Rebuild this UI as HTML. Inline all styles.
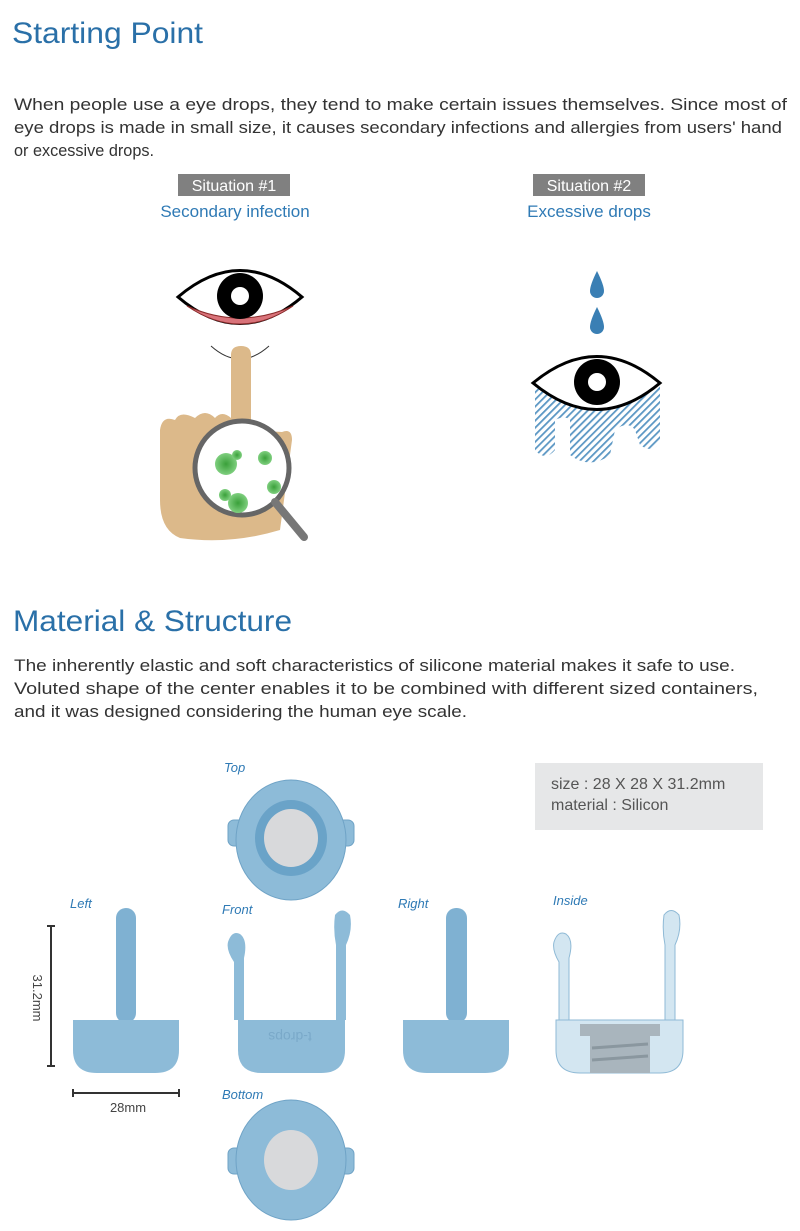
<!DOCTYPE html>
<html><head><meta charset="utf-8"><style>
body{margin:0;background:#fff;width:800px;height:1231px;overflow:hidden}
svg{display:block}
.h{font-family:"Liberation Sans",sans-serif;fill:#2a70a8;font-size:30px}
.p{font-family:"Liberation Sans",sans-serif;fill:#333;font-size:17px}
.lab{font-family:"Liberation Sans",sans-serif;fill:#2f7ab5;font-size:13px;font-style:italic}
</style></head><body>
<svg width="800" height="1231" viewBox="0 0 800 1231" xmlns="http://www.w3.org/2000/svg">
<defs>
<pattern id="hat" width="5" height="5" patternUnits="userSpaceOnUse" patternTransform="rotate(45)">
<rect width="5" height="5" fill="#fff"/><rect width="1.8" height="5" fill="#5b97c4"/></pattern>
<radialGradient id="g" cx="50%" cy="50%" r="50%"><stop offset="0" stop-color="#3aa03a"/><stop offset="1" stop-color="#7fcf7f"/></radialGradient>
</defs>
<text class="h" x="12" y="43" textLength="191" lengthAdjust="spacingAndGlyphs">Starting Point</text>
<text class="p" x="14" y="110" textLength="773" lengthAdjust="spacingAndGlyphs">When people use a eye drops, they tend to make certain issues themselves. Since most of</text>
<text class="p" x="14" y="133" textLength="768" lengthAdjust="spacingAndGlyphs">eye drops is made in small size, it causes secondary infections and allergies from users' hand</text>
<text class="p" x="14" y="156" textLength="140" lengthAdjust="spacingAndGlyphs">or excessive drops.</text>

<rect x="178" y="174" width="112" height="22" fill="#808080"/>
<text x="234" y="191" text-anchor="middle" font-family="Liberation Sans,sans-serif" font-size="16" fill="#fff">Situation #1</text>
<text x="235" y="217" text-anchor="middle" font-family="Liberation Sans,sans-serif" font-size="17" fill="#2f7ab5">Secondary infection</text>
<rect x="533" y="174" width="112" height="22" fill="#808080"/>
<text x="589" y="191" text-anchor="middle" font-family="Liberation Sans,sans-serif" font-size="16" fill="#fff">Situation #2</text>
<text x="589" y="217" text-anchor="middle" font-family="Liberation Sans,sans-serif" font-size="17" fill="#2f7ab5">Excessive drops</text>

<path d="M178 297 Q240 244 302 297 Q240 350 178 297Z" fill="#fff" stroke="#000" stroke-width="3"/>
<path d="M187 306 Q240 342 293 306 Q240 330 187 306Z" fill="#d9737a" stroke="#8a2a2a" stroke-width="1"/>
<circle cx="240" cy="296" r="23" fill="#000"/><circle cx="240" cy="296" r="9" fill="#fff"/>
<path d="M211 346 Q240 372 269 346" fill="none" stroke="#333" stroke-width="1"/>
<path d="M231 355 Q231 346 241 346 Q251 346 251 355 L251 430 L282 432 Q292 428 292 440 L288 470 L280 530 Q230 545 180 538 Q160 530 160 500 L160 430 Q162 415 175 420 Q180 410 195 418 Q205 408 215 418 Q222 410 231 418Z" fill="#dcb98a"/>
<circle cx="242" cy="468" r="47" fill="#fff" stroke="#666" stroke-width="5"/>
<line x1="275" y1="502" x2="304" y2="537" stroke="#777" stroke-width="8" stroke-linecap="round"/>
<g fill="url(#g)"><circle cx="226" cy="464" r="11"/><circle cx="237" cy="455" r="5"/><circle cx="265" cy="458" r="7"/><circle cx="274" cy="487" r="7"/><circle cx="225" cy="495" r="6"/><circle cx="238" cy="503" r="10"/></g>

<path d="M597 271 Q590 285 590 291 A7 7 0 0 0 604 291 Q604 285 597 271Z" fill="#3a7fb4"/>
<path d="M597 307 Q590 321 590 327 A7 7 0 0 0 604 327 Q604 321 597 307Z" fill="#3a7fb4"/>
<path d="M535 385 L535 450 Q545 462 555 450 L555 420 Q565 415 570 420 L570 455 Q590 470 610 455 L615 430 Q628 420 635 430 L640 445 Q655 455 660 440 L660 385 Z" fill="url(#hat)"/>
<path d="M533 383 Q597 330 660 383 Q597 436 533 383Z" fill="#fff" stroke="#000" stroke-width="3"/>
<circle cx="597" cy="382" r="23" fill="#000"/><circle cx="597" cy="382" r="9" fill="#fff"/>

<text class="h" x="13" y="631" textLength="279" lengthAdjust="spacingAndGlyphs">Material &amp; Structure</text>
<text class="p" x="14" y="671" textLength="721" lengthAdjust="spacingAndGlyphs">The inherently elastic and soft characteristics of silicone material makes it safe to use.</text>
<text class="p" x="14" y="694" textLength="744" lengthAdjust="spacingAndGlyphs">Voluted shape of the center enables it to be combined with different sized containers,</text>
<text class="p" x="14" y="717" textLength="453" lengthAdjust="spacingAndGlyphs">and it was designed considering the human eye scale.</text>

<rect x="535" y="763" width="228" height="67" fill="#e6e7e8"/>
<text x="551" y="789" font-family="Liberation Sans,sans-serif" font-size="16" fill="#555">size :  28 X 28 X 31.2mm</text>
<text x="551" y="810" font-family="Liberation Sans,sans-serif" font-size="16" fill="#555">material : Silicon</text>

<text class="lab" x="224" y="772">Top</text>
<text class="lab" x="70" y="908">Left</text>
<text class="lab" x="222" y="914">Front</text>
<text class="lab" x="398" y="908">Right</text>
<text class="lab" x="553" y="905">Inside</text>
<text class="lab" x="222" y="1099">Bottom</text>

<g fill="#8dbbd8" stroke="#6fa3c6">
<rect x="228" y="820" width="20" height="26" rx="6"/><rect x="334" y="820" width="20" height="26" rx="6"/>
<ellipse cx="291" cy="840" rx="55" ry="60"/></g>
<ellipse cx="291" cy="838" rx="36" ry="38" fill="#6aa3c8"/>
<ellipse cx="291" cy="838" rx="27" ry="29" fill="#d8d9db"/>
<g fill="#8dbbd8" stroke="#6fa3c6">
<rect x="228" y="1148" width="20" height="26" rx="6"/><rect x="334" y="1148" width="20" height="26" rx="6"/>
<ellipse cx="291" cy="1160" rx="55" ry="60"/></g>
<ellipse cx="291" cy="1160" rx="27" ry="30" fill="#d8d9db"/>

<g fill="#8dbbd8">
<rect x="116" y="908" width="20" height="115" rx="10" fill="#7fb1d2"/>
<path d="M73 1020 L179 1020 L179 1050 Q179 1073 155 1073 L97 1073 Q73 1073 73 1050Z"/>
<rect x="446" y="908" width="21" height="115" rx="10" fill="#7fb1d2"/>
<path d="M403 1020 L509 1020 L509 1050 Q509 1073 485 1073 L427 1073 Q403 1073 403 1050Z"/>
<path d="M238 1020 L345 1020 L345 1050 Q345 1073 321 1073 L262 1073 Q238 1073 238 1050Z"/>
<path d="M234 1020 L234 962 Q226 950 228 942 Q232 930 240 934 Q248 940 244 958 L244 1020Z"/>
<path d="M336 1020 L336 945 Q333 930 335 915 Q342 906 350 915 Q353 930 346 945 L346 1020Z"/>
</g>
<text x="290" y="1042" text-anchor="middle" font-family="Liberation Sans,sans-serif" font-size="14" fill="#7aa9c9" transform="rotate(180 290 1037)">t-drops</text>
<g fill="#d3e6f1" stroke="#8fbad6">
<path d="M556 1020 L683 1020 L683 1050 Q683 1073 660 1073 L580 1073 Q556 1073 556 1050Z"/>
<path d="M559 1020 L559 962 Q552 950 554 942 Q558 930 566 934 Q574 940 569 958 L569 1020Z"/>
<path d="M665 1020 L665 945 Q662 930 664 915 Q671 906 679 915 Q682 930 675 945 L675 1020Z"/>
</g>
<path d="M580 1024 L660 1024 L660 1036 L650 1036 L650 1073 L590 1073 L590 1036 L580 1036Z" fill="#a9b5bd"/>
<g stroke="#8a979f" stroke-width="3"><line x1="592" y1="1048" x2="648" y2="1044"/><line x1="592" y1="1060" x2="648" y2="1056"/></g>

<g stroke="#333" stroke-width="2"><line x1="51" y1="926" x2="51" y2="1066"/><line x1="47" y1="926" x2="55" y2="926"/><line x1="47" y1="1066" x2="55" y2="1066"/>
<line x1="73" y1="1093" x2="179" y2="1093"/><line x1="73" y1="1089" x2="73" y2="1097"/><line x1="179" y1="1089" x2="179" y2="1097"/></g>
<text x="37" y="998" text-anchor="middle" font-family="Liberation Sans,sans-serif" font-size="13" fill="#444" transform="rotate(90 37 998)" dy="4">31.2mm</text>
<text x="128" y="1112" text-anchor="middle" font-family="Liberation Sans,sans-serif" font-size="13" fill="#444">28mm</text>
</svg>
</body></html>
